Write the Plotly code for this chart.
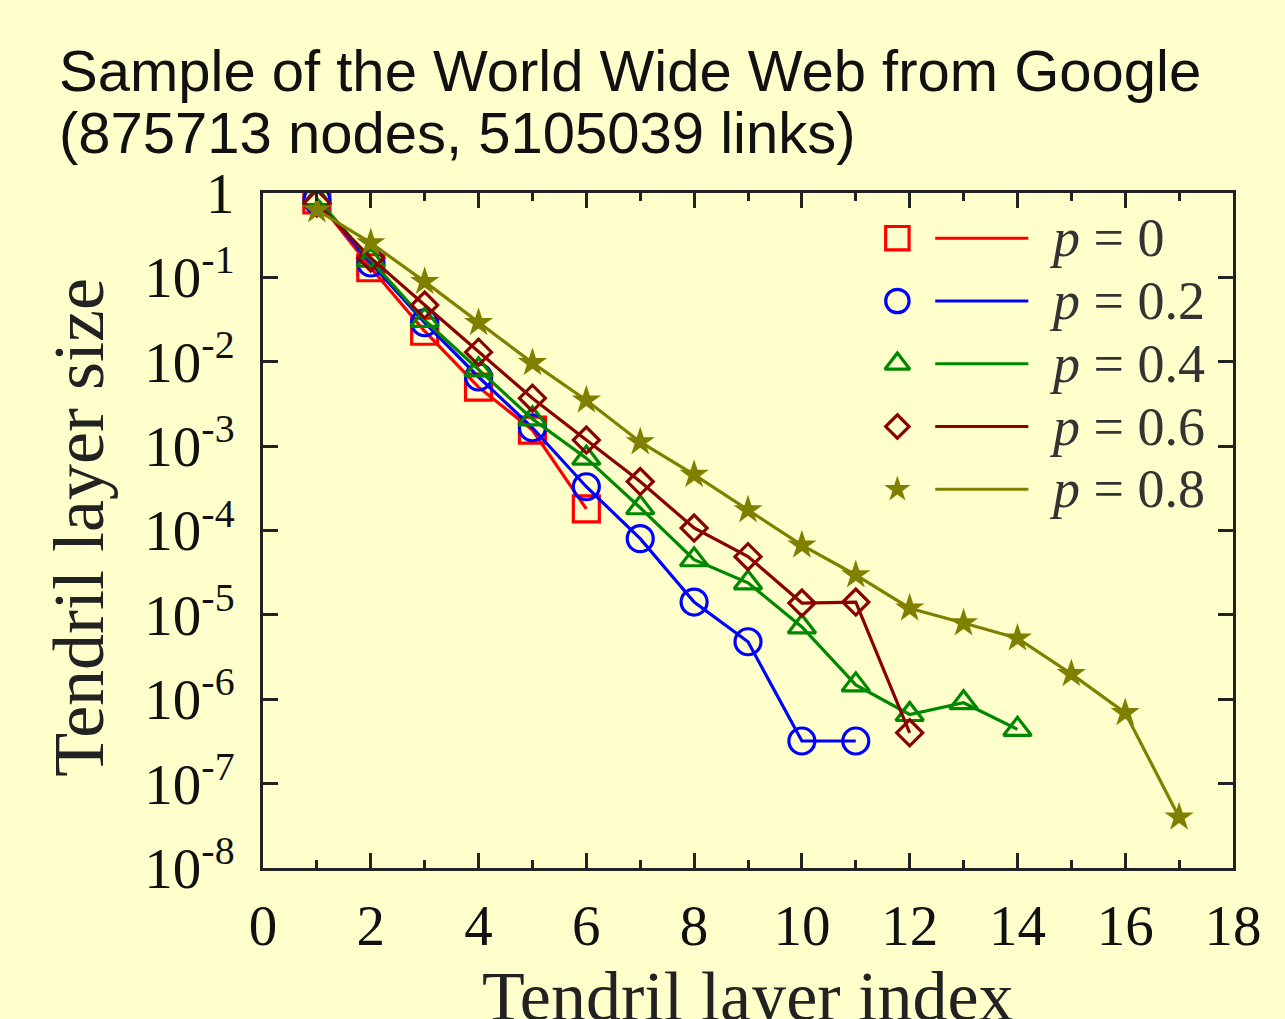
import plotly.graph_objects as go

# ---------------- data ----------------
x_p0 = [1, 2, 3, 4, 5, 6]
y_p0 = [0.83, 0.13, 0.023, 0.005, 0.00155, 1.8e-4]

x_p2 = [1, 2, 3, 4, 5, 6, 7, 8, 9, 10, 11]
y_p2 = [0.83, 0.148, 0.029, 0.0066, 0.00165, 3.3e-4, 8.0e-5, 1.42e-5, 4.8e-6, 3.2e-7, 3.2e-7]

x_p4 = [1, 2, 3, 4, 5, 6, 7, 8, 9, 10, 11, 12, 13, 14]
y_p4 = [0.86, 0.16, 0.031, 0.008, 0.0021, 7.2e-4, 1.86e-4, 4.5e-5, 2.4e-5, 7.2e-6,
        1.48e-6, 6.6e-7, 9.1e-7, 4.4e-7]

x_p6 = [1, 2, 3, 4, 5, 6, 7, 8, 9, 10, 11, 12]
y_p6 = [0.76, 0.17, 0.047, 0.013, 0.0037, 0.00118, 3.8e-4, 1.07e-4, 4.9e-5, 1.38e-5,
        1.42e-5, 4.0e-7]

x_p8 = [1, 2, 3, 4, 5, 6, 7, 8, 9, 10, 11, 12, 13, 14, 15, 16, 17]
y_p8 = [0.63, 0.256, 0.089, 0.029, 0.0097, 0.0035, 0.00112, 4.6e-4, 1.75e-4, 6.7e-5,
        2.97e-5, 1.2e-5, 8.0e-6, 5.3e-6, 2.0e-6, 6.9e-7, 4.0e-8]

series_labels = ["0", "0.2", "0.4", "0.6", "0.8"]
x_ticks = [0, 2, 4, 6, 8, 10, 12, 14, 16, 18]
y_tickvals = [1, 1e-1, 1e-2, 1e-3, 1e-4, 1e-5, 1e-6, 1e-7, 1e-8]
y_ticktext = ["1"] + ["10<sup>-%d</sup>" % k for k in range(1, 9)]

title_line1 = "Sample of the World Wide Web from Google"
title_line2 = "(875713 nodes, 5105039 links)"
x_title = "Tendril layer index"
y_title = "Tendril layer size"

# ---------------- styles ----------------
BG = "#FFFFCC"
AX = "#222222"
SERIF = "Liberation Serif, Times New Roman, serif"
SANS = "Liberation Sans, Arial, sans-serif"

styles = [
    dict(color="#FF0000", symbol="square-open", size=26, lw=3.2),
    dict(color="#0000FF", symbol="circle-open", size=26, lw=3.2),
    dict(color="#008800", symbol="triangle-up-open", size=24, lw=3.2),
    dict(color="#8B0000", symbol="diamond-open", size=20, lw=3.2),
    dict(color="#808000", symbol="star", size=22, lw=0),
]
xs = [x_p0, x_p2, x_p4, x_p6, x_p8]
ys = [y_p0, y_p2, y_p4, y_p6, y_p8]

fig = go.Figure()
for xv, yv, st, lab in zip(xs, ys, styles, series_labels):
    fig.add_trace(go.Scatter(
        x=xv, y=yv, mode="lines+markers", name="p = " + lab,
        line=dict(color=st["color"], width=3.2),
        marker=dict(symbol=st["symbol"], size=st["size"], color=st["color"],
                    line=dict(color=st["color"], width=st["lw"])),
        showlegend=False,
    ))

# ---------------- custom legend (marker | line | label) ----------------
leg_marker_x = 0.654
leg_line_x0, leg_line_x1 = 0.693, 0.789
leg_text_x = 0.808
leg_y0, leg_dy = 0.933, 0.093
annotations = []
shapes = []
for i, (st, lab) in enumerate(zip(styles, series_labels)):
    yy = leg_y0 - i * leg_dy
    fig.add_trace(go.Scatter(
        x=[leg_marker_x], y=[yy], xaxis="x2", yaxis="y2", mode="markers",
        marker=dict(symbol=st["symbol"], size=st["size"] * 0.9, color=st["color"],
                    line=dict(color=st["color"], width=st["lw"])),
        showlegend=False, hoverinfo="skip",
    ))
    shapes.append(dict(type="line", xref="paper", yref="paper",
                       x0=leg_line_x0, x1=leg_line_x1, y0=yy, y1=yy,
                       line=dict(color=st["color"], width=3)))
    annotations.append(dict(text="<i>p</i> = " + lab, xref="paper", yref="paper",
                            x=leg_text_x, y=yy, xanchor="left", yanchor="middle",
                            showarrow=False,
                            font=dict(family=SERIF, size=54, color="#333333")))

# titles
annotations.append(dict(text=title_line1, xref="paper", yref="paper", x=-0.212, y=1.181,
                        xanchor="left", yanchor="middle", showarrow=False,
                        font=dict(family=SANS, size=58, color="#111111")))
annotations.append(dict(text=title_line2, xref="paper", yref="paper", x=-0.212, y=1.090,
                        xanchor="left", yanchor="middle", showarrow=False,
                        font=dict(family=SANS, size=58, color="#111111")))
annotations.append(dict(text=x_title, xref="paper", yref="paper", x=0.5, y=-0.19,
                        xanchor="center", yanchor="middle", showarrow=False,
                        font=dict(family=SERIF, size=70, color="#222222")))
annotations.append(dict(text=y_title, xref="paper", yref="paper", x=-0.19, y=0.505,
                        xanchor="center", yanchor="middle", showarrow=False, textangle=-90,
                        font=dict(family=SERIF, size=72, color="#222222")))

fig.update_layout(
    width=1285, height=1019,
    margin=dict(l=263, r=52, t=193, b=151),
    paper_bgcolor=BG, plot_bgcolor=BG,
    showlegend=False,
    annotations=annotations, shapes=shapes,
    xaxis=dict(
        range=[0, 18], tickvals=x_ticks, showgrid=False, zeroline=False,
        showline=True, linewidth=3, linecolor=AX, mirror="allticks",
        ticks="inside", ticklen=15, tickwidth=3, tickcolor=AX,
        minor=dict(dtick=1, tick0=0, ticks="inside", ticklen=8, tickwidth=3, tickcolor=AX,
                   showgrid=False),
        tickfont=dict(family=SERIF, size=57, color="#111111"),
        ticklabelstandoff=6,
    ),
    yaxis=dict(
        type="log", range=[-8, 0], tickvals=y_tickvals, ticktext=y_ticktext,
        showgrid=False, zeroline=False,
        showline=True, linewidth=3, linecolor=AX, mirror="allticks",
        ticks="inside", ticklen=15, tickwidth=3, tickcolor=AX,
        tickfont=dict(family=SERIF, size=57, color="#111111"),
        ticklabelstandoff=14,
    ),
    xaxis2=dict(overlaying="x", range=[0, 1], visible=False, fixedrange=True),
    yaxis2=dict(overlaying="y", range=[0, 1], visible=False, fixedrange=True),
)

fig.write_html("out.html")
